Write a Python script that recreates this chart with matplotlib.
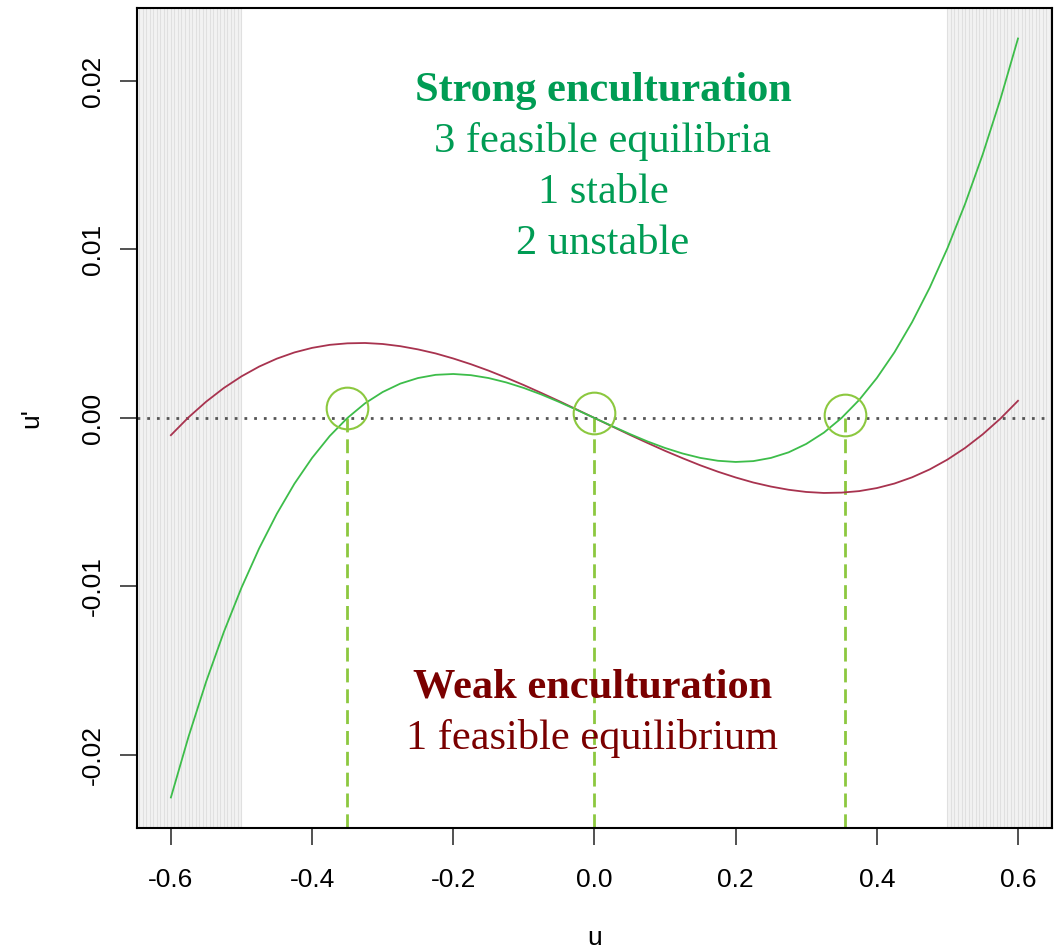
import numpy as np
import matplotlib
matplotlib.use("Agg")
import matplotlib.pyplot as plt

# sample points
u = [-0.6, -0.575, -0.55, -0.525, -0.5, -0.475, -0.45, -0.425, -0.4, -0.375,
     -0.35, -0.325, -0.3, -0.275, -0.25, -0.225, -0.2, -0.175, -0.15, -0.125,
     -0.1, -0.075, -0.05, -0.025, 0.0, 0.025, 0.05, 0.075, 0.1, 0.125,
     0.15, 0.175, 0.2, 0.225, 0.25, 0.275, 0.3, 0.325, 0.35, 0.375,
     0.4, 0.425, 0.45, 0.475, 0.5, 0.525, 0.55, 0.575, 0.6]

strong = [-0.02252, -0.01891, -0.01564, -0.01270, -0.01007, -0.00774, -0.00569, -0.00390,
          -0.00237, -0.00107, 0.0, 0.00087, 0.00154, 0.00204, 0.00237, 0.00256,
          0.00261, 0.00254, 0.00237, 0.00211, 0.00178, 0.00139, 0.00095, 0.00048,
          0.0, -0.00048, -0.00095, -0.00139, -0.00178, -0.00211, -0.00237, -0.00254,
          -0.00261, -0.00256, -0.00237, -0.00204, -0.00154, -0.00087, 0.0, 0.00107,
          0.00237, 0.00390, 0.00569, 0.00774, 0.01007, 0.01270, 0.01564, 0.01891, 0.02252]

weak = [-0.00102, 0.00004, 0.00097, 0.00178, 0.00247, 0.00305, 0.00352, 0.00389,
        0.00416, 0.00434, 0.00443, 0.00445, 0.00439, 0.00426, 0.00407, 0.00383,
        0.00353, 0.00319, 0.00281, 0.00239, 0.00195, 0.00148, 0.00100, 0.00050,
        0.0, -0.00050, -0.00100, -0.00148, -0.00195, -0.00239, -0.00281, -0.00319,
        -0.00353, -0.00383, -0.00407, -0.00426, -0.00439, -0.00445, -0.00443, -0.00434,
        -0.00416, -0.00389, -0.00352, -0.00305, -0.00247, -0.00178, -0.00097, -0.00004, 0.00102]

eq_u = [-0.35, 0.0, 0.355]
eq_y = [0.0006, 0.0003, 0.0002]

xticks = [-0.6, -0.4, -0.2, 0.0, 0.2, 0.4, 0.6]
xticklabels = ["-0.6", "-0.4", "-0.2", "0.0", "0.2", "0.4", "0.6"]
yticks = [-0.02, -0.01, 0.0, 0.01, 0.02]
yticklabels = ["-0.02", "-0.01", "0.00", "0.01", "0.02"]

plt.rcParams['font.family'] = ['Liberation Sans', 'DejaVu Sans']

fig = plt.figure(figsize=(10.54, 9.52), dpi=100)
ax = fig.add_axes([0.130, 0.1303, 0.868, 0.8613])
ax.set_xlim(-0.648, 0.648)
ax.set_ylim(-0.02433, 0.02433)

# infeasible regions hatched with thin gray lines
ax.axvspan(-0.66, -0.5, color='#f2f2f2', lw=0, zorder=0)
ax.axvspan(0.5, 0.66, color='#f2f2f2', lw=0, zorder=0)
for v in np.arange(-0.66, -0.5 + 1e-9, 0.005):
    ax.axvline(v, color='#e0e0e0', lw=0.8, zorder=0)
for v in np.arange(0.5, 0.66, 0.005):
    ax.axvline(v, color='#e0e0e0', lw=0.8, zorder=0)

ax.axhline(0, color='#555555', lw=2.0, linestyle=(0, (1, 2.5)), zorder=1)

ax.plot(u, weak, color='#a8334f', lw=1.3, zorder=3)
ax.plot(u, strong, color='#3dbd4a', lw=1.3, zorder=3)

for x0 in eq_u:
    ax.plot([x0, x0], [0, -0.02433], color='#8cc83f', lw=2.0, linestyle=(0, (5, 2.5)), zorder=2)
ax.plot(eq_u, eq_y, 'o', mfc='none', mec='#8cc83f', mew=1.5, ms=30, zorder=4)

serif = ['Liberation Serif', 'DejaVu Serif']
ax.text(0.012, 0.0194, "Strong enculturation", color='#009c54', fontsize=30.5,
        fontweight='bold', ha='center', va='center', family=serif)
for i, s in enumerate(["3 feasible equilibria", "1 stable", "2 unstable"]):
    ax.text(0.012, 0.0164 - i * 0.00303, s, color='#009c54', fontsize=30.5,
            ha='center', va='center', family=serif)
ax.text(-0.003, -0.016, "Weak enculturation", color='#7a0000', fontsize=30.5,
        fontweight='bold', ha='center', va='center', family=serif)
ax.text(-0.003, -0.019, "1 feasible equilibrium", color='#7a0000', fontsize=30.5,
        ha='center', va='center', family=serif)

ax.set_xticks(xticks)
ax.set_xticklabels(xticklabels)
ax.set_yticks(yticks)
ax.set_yticklabels(yticklabels, rotation=90, va='center')
ax.tick_params(axis='both', length=12, width=1.2, labelsize=19, color='#333333')
ax.tick_params(axis='x', pad=17)
ax.tick_params(axis='y', pad=11)
for sp in ax.spines.values():
    sp.set_linewidth(1.5)
    sp.set_zorder(5)

ax.set_xlabel("u", fontsize=19, labelpad=24)
ax.set_ylabel("u'", fontsize=19, labelpad=27)

fig.savefig("out.png", dpi=100)
